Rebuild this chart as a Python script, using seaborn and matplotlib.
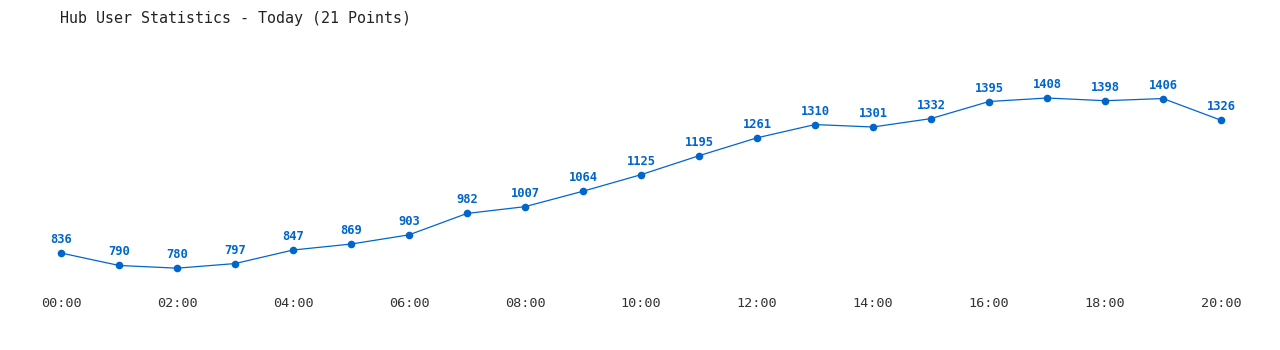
import matplotlib
matplotlib.use("Agg")
import matplotlib.pyplot as plt
import seaborn as sns
import pandas as pd

hours = list(range(21))
users = [836, 790, 780, 797, 847, 869, 903, 982, 1007, 1064, 1125, 1195,
         1261, 1310, 1301, 1332, 1395, 1408, 1398, 1406, 1326]
tick_hours = list(range(0, 21, 2))
tick_labels = [f"{h:02d}:00" for h in tick_hours]
title = "Hub User Statistics - Today (21 Points)"

sns.set_theme(style="white")
plt.rcParams['font.family'] = ['DejaVu Sans Mono', 'DejaVu Sans']

W, H = 1280, 350
fig = plt.figure(figsize=(W / 100, H / 100), dpi=100)
ax_bottom_px = 290
ax = fig.add_axes([0, (H - ax_bottom_px) / H, 1, ax_bottom_px / H])

color = "#0066CC"
df = pd.DataFrame({"hour": hours, "users": users})
sns.lineplot(data=df, x="hour", y="users", ax=ax, color=color, linewidth=0.9,
             marker="o", markersize=5.5, markeredgewidth=0, markeredgecolor=color)

# pixel mapping: hour h -> 61 + 58h ; value v -> y px = 253 - (v-836)*155/572
px_per_h = 58.0
x0 = 61.0
ax.set_xlim(-x0 / px_per_h, (W - x0) / px_per_h)
k = 155.0 / 572.0
ax.set_ylim(836 - (ax_bottom_px - 253) / k, 836 + 253 / k)

for h, v in zip(hours, users):
    ax.annotate(str(v), (h, v), xytext=(0, 7), textcoords="offset pixels",
                ha="center", va="bottom", fontsize=8.7, fontweight="bold",
                color=color)

ax.set_xticks(tick_hours)
ax.set_xticklabels(tick_labels, fontsize=9.7, color="#333333")
ax.tick_params(axis="x", length=0, pad=5)
ax.set_yticks([])
ax.set_xlabel("")
ax.set_ylabel("")
for s in ax.spines.values():
    s.set_visible(False)

fig.text(60 / W, 1 - 18 / H, title, ha="left", va="center", fontsize=10.8,
         color="#222222")

fig.savefig("out.png", dpi=100, facecolor="white")
